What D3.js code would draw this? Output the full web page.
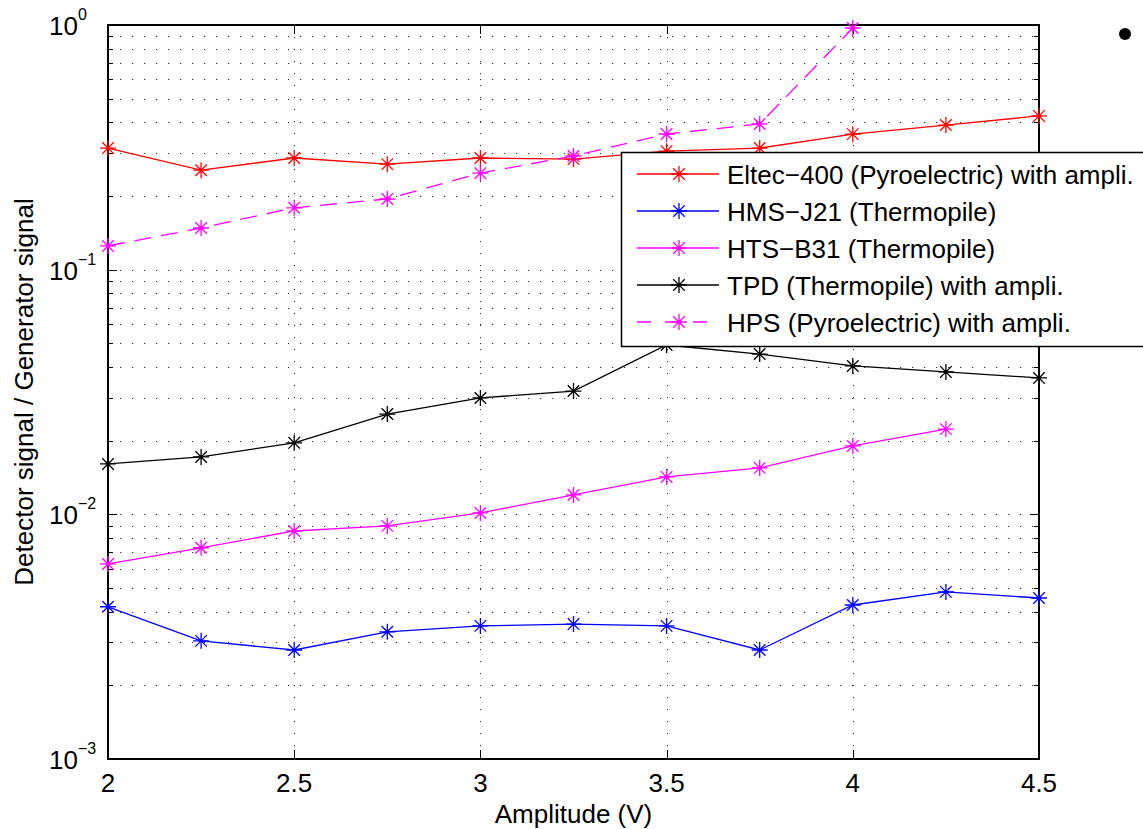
<!DOCTYPE html>
<html>
<head>
<meta charset="utf-8">
<script src="https://cdn.jsdelivr.net/npm/d3@7"></script>
<style>
  body { margin: 0; background: #fff; }
  svg { font-family: "Liberation Sans", Arial, sans-serif; }
</style>
</head>
<body>
<svg id="chart" width="1143" height="829"></svg>
<script>
// amplitude steps (V)
var amps = [2, 2.25, 2.5, 2.75, 3, 3.25, 3.5, 3.75, 4, 4.25, 4.5];

// detector / generator ratio
var eltec = [0.314, 0.255, 0.286, 0.270, 0.286, 0.283, 0.305, 0.314, 0.358, 0.390, 0.425];
var hms   = [0.00419, 0.00304, 0.00279, 0.00331, 0.00350, 0.00356, 0.00350, 0.00279, 0.00426, 0.00482, 0.00455];
var hts   = [0.00627, 0.00730, 0.00855, 0.00897, 0.01013, 0.0120, 0.01422, 0.01548, 0.01903, 0.0223];
var tpd   = [0.01607, 0.01716, 0.0196, 0.0257, 0.0299, 0.0319, 0.0492, 0.0452, 0.0404, 0.0382, 0.0361];
var hps   = [0.125, 0.148, 0.179, 0.1945, 0.248, 0.2915, 0.3585, 0.394, 0.972];

var xTicks = [2, 2.5, 3, 3.5, 4, 4.5];
var yDecades = [-3, -2, -1, 0];

var seriesNames = ["Eltec\u2212400 (Pyroelectric) with ampli.", "HMS\u2212J21 (Thermopile)",
  "HTS\u2212B31 (Thermopile)", "TPD (Thermopile) with ampli.", "HPS (Pyroelectric) with ampli."];

var series = [
  { name: seriesNames[0], vals: eltec, color: "#ff0000", dash: null },
  { name: seriesNames[1], vals: hms, color: "#0000ff", dash: null },
  { name: seriesNames[2], vals: hts, color: "#ff00ff", dash: null },
  { name: seriesNames[3], vals: tpd, color: "#000000", dash: null },
  { name: seriesNames[4], vals: hps, color: "#ff00ff", dash: "17,10" }
];

var svg = d3.select("#chart");
var pLeft = 108, pRight = 1039, pTop = 25, pBottom = 759;
var FS = 26;

var x = d3.scaleLinear().domain([2, 4.5]).range([pLeft, pRight]);
var y = d3.scaleLog().domain([1e-3, 1]).range([pBottom, pTop]);

// minor log values
var minorVals = [];
yDecades.slice(0, 3).forEach(function(e) {
  for (var k = 2; k <= 9; k++) minorVals.push(k * Math.pow(10, e));
});
var majorVals = yDecades.map(function(e) { return Math.pow(10, e); });

var grid = svg.append("g").attr("stroke", "#333").attr("stroke-width", 1)
  .attr("stroke-dasharray", "1.2,10.8");

// horizontal grid
grid.selectAll(".hg").data(minorVals.concat(majorVals)).enter().append("line")
  .attr("x1", pLeft).attr("x2", pRight)
  .attr("y1", function(d) { return Math.round(y(d)) + 0.5; })
  .attr("y2", function(d) { return Math.round(y(d)) + 0.5; });

// vertical grid
grid.selectAll(".vg").data(xTicks.slice(1, -1)).enter().append("line")
  .attr("y1", pTop).attr("y2", pBottom)
  .attr("x1", function(d) { return Math.round(x(d)) + 0.5; })
  .attr("x2", function(d) { return Math.round(x(d)) + 0.5; });

// tick marks (inward, on all sides)
var ticks = svg.append("g").attr("stroke", "#000").attr("stroke-width", 1);
xTicks.forEach(function(v) {
  var px = Math.round(x(v)) + 0.5;
  ticks.append("line").attr("x1", px).attr("x2", px).attr("y1", pBottom).attr("y2", pBottom - 9);
  ticks.append("line").attr("x1", px).attr("x2", px).attr("y1", pTop).attr("y2", pTop + 9);
});
minorVals.concat(majorVals).forEach(function(v) {
  var py = Math.round(y(v)) + 0.5;
  var len = majorVals.indexOf(v) >= 0 ? 9 : 5;
  ticks.append("line").attr("x1", pLeft).attr("x2", pLeft + len).attr("y1", py).attr("y2", py);
  ticks.append("line").attr("x1", pRight).attr("x2", pRight - len).attr("y1", py).attr("y2", py);
});

// axis box
svg.append("rect").attr("x", pLeft).attr("y", pTop)
  .attr("width", pRight - pLeft).attr("height", pBottom - pTop)
  .attr("fill", "none").attr("stroke", "#000").attr("stroke-width", 2);

// x tick labels
svg.selectAll(".xl").data(xTicks).enter().append("text")
  .attr("x", function(d) { return x(d); })
  .attr("y", 792)
  .attr("text-anchor", "middle")
  .attr("font-size", FS)
  .text(function(d) { return d; });

// y tick labels 10^n
yDecades.forEach(function(e) {
  var t = svg.append("text")
    .attr("x", 49).attr("y", y(Math.pow(10, e)) + 10)
    .attr("font-size", FS);
  t.append("tspan").text("10");
  t.append("tspan").attr("dy", -15).attr("font-size", 16).text(e === 0 ? "0" : "\u2212" + (-e));
});

// axis titles
svg.append("text").attr("x", (pLeft + pRight) / 2).attr("y", 823)
  .attr("text-anchor", "middle").attr("font-size", FS).text("Amplitude (V)");
svg.append("text")
  .attr("transform", "translate(33," + ((pTop + pBottom) / 2) + ") rotate(-90)")
  .attr("text-anchor", "middle").attr("font-size", FS)
  .text("Detector signal / Generator signal");

function star(g, cx, cy, color) {
  var r = 8, d = r * 0.72;
  g.append("path")
    .attr("d", "M" + (cx - r) + "," + cy + "h" + (2 * r) +
      "M" + cx + "," + (cy - r) + "v" + (2 * r) +
      "M" + (cx - d) + "," + (cy - d) + "l" + (2 * d) + "," + (2 * d) +
      "M" + (cx - d) + "," + (cy + d) + "l" + (2 * d) + "," + (-2 * d))
    .attr("stroke", color).attr("stroke-width", 1.3).attr("fill", "none");
}

var line = d3.line()
  .x(function(d, i) { return x(amps[i]); })
  .y(function(d) { return y(d); });

series.forEach(function(s) {
  var g = svg.append("g");
  g.append("path").datum(s.vals).attr("d", line)
    .attr("fill", "none").attr("stroke", s.color).attr("stroke-width", 1.3)
    .attr("stroke-dasharray", s.dash);
  s.vals.forEach(function(v, i) { star(g, x(amps[i]), y(v), s.color); });
});

// legend
var lg = svg.append("g");
lg.append("rect").attr("x", 621.5).attr("y", 152.5).attr("width", 560).attr("height", 194)
  .attr("fill", "#fff").attr("stroke", "#000").attr("stroke-width", 1.5);
series.forEach(function(s, i) {
  var ly = 174 + i * 37;
  lg.append("line").attr("x1", 637).attr("x2", 719).attr("y1", ly).attr("y2", ly)
    .attr("stroke", s.color).attr("stroke-width", 1.3).attr("stroke-dasharray", s.dash ? "14,14" : null);
  star(lg, 679, ly, s.color);
  lg.append("text").attr("x", 727).attr("y", ly + 10).attr("font-size", FS).text(s.name);
});

// stray bullet at top right
svg.append("circle").attr("cx", 1125).attr("cy", 34).attr("r", 6).attr("fill", "#000");
</script>
</body>
</html>
